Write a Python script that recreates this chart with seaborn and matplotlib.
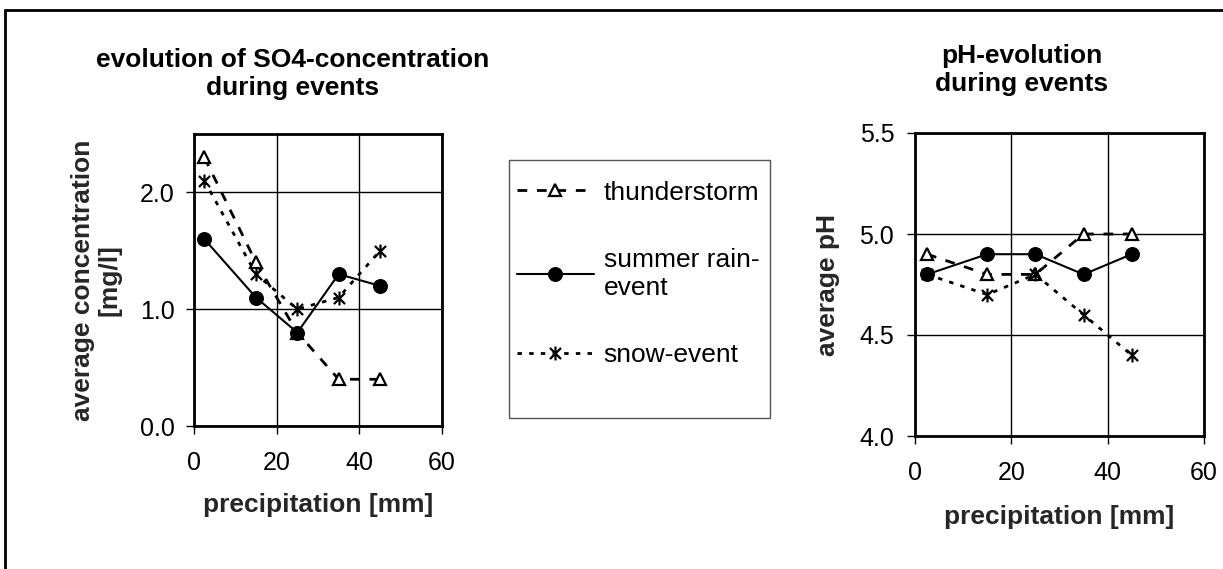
import numpy as np
import matplotlib
matplotlib.use("Agg")
import matplotlib.pyplot as plt
import seaborn as sns
import matplotlib.ticker as ticker
from matplotlib.path import Path
from matplotlib.patches import Rectangle
from matplotlib.lines import Line2D

sns.set_theme(style="white")
plt.rcParams.update({
    "font.family": ["Liberation Sans", "DejaVu Sans"],
    "font.size": 19,
    "axes.edgecolor": "black",
    "xtick.color": "black",
    "ytick.color": "black",
    "text.color": "black",
})

# data
precip = [2.5, 15, 25, 35, 45]
so4_thunder = [2.3, 1.4, 0.8, 0.4, 0.4]
so4_summer = [1.6, 1.1, 0.8, 1.3, 1.2]
so4_snow = [2.1, 1.3, 1.0, 1.1, 1.5]
ph_thunder = [4.9, 4.8, 4.8, 5.0, 5.0]
ph_summer = [4.8, 4.9, 4.9, 4.8, 4.9]
ph_snow = [4.8, 4.7, 4.8, 4.6, 4.4]
series_names = ["thunderstorm", "summer rain-\nevent", "snow-event"]
x_ticks = [0, 20, 40, 60]

LABEL_FS = 19
TICK_FS = 18

# asterisk marker (X plus vertical bar)
star = Path([(0, -1), (0, 1), (-0.8, -0.8), (0.8, 0.8), (-0.8, 0.8), (0.8, -0.8)],
            [Path.MOVETO, Path.LINETO, Path.MOVETO, Path.LINETO, Path.MOVETO, Path.LINETO])

styles = [
    dict(marker="^", markersize=9, markerfacecolor="white", markeredgecolor="black",
         markeredgewidth=1.6, linestyle=(0, (3.5, 3.5)), linewidth=2.0),
    dict(marker="o", markersize=10, markerfacecolor="black", markeredgecolor="black",
         linestyle="-", linewidth=1.5),
    dict(marker=star, markersize=10, markerfacecolor="none", markeredgecolor="black",
         markeredgewidth=1.6, linestyle=(0, (1.6, 2.6)), linewidth=2.0),
]

fig = plt.figure(figsize=(12.23, 5.69), dpi=100)
W, H = 1223, 569


def px_axes(x0, y0, x1, y1):
    return fig.add_axes([x0 / W, 1 - y1 / H, (x1 - x0) / W, (y1 - y0) / H])


ax1 = px_axes(194, 134, 442, 426)
ax2 = px_axes(915, 133, 1204, 436)

for ax, data in [(ax1, [so4_thunder, so4_summer, so4_snow]),
                 (ax2, [ph_thunder, ph_summer, ph_snow])]:
    for vals, name, st in zip(data, series_names, styles):
        sns.lineplot(x=precip, y=vals, ax=ax, color="black", label=name,
                     legend=False, **st)
    if ax.get_legend() is not None:
        ax.get_legend().remove()
    ax.set_xlim(0, 60)
    ax.set_xticks(x_ticks)
    ax.grid(True, color="black", linewidth=1)
    for s in ax.spines.values():
        s.set_linewidth(2)
        s.set_color("black")
    ax.tick_params(direction="out", length=6, width=1, labelsize=TICK_FS)
    ax.tick_params(axis="x", pad=12, bottom=True)
    ax.tick_params(axis="y", left=True)
    ax.yaxis.set_major_formatter(ticker.FormatStrFormatter("%.1f"))

ax1.set_ylim(0, 2.5)
ax1.set_yticks([0, 1, 2])
ax1.tick_params(axis="y", pad=8)
ax2.set_ylim(4.0, 5.5)
ax2.set_yticks([4.0, 4.5, 5.0, 5.5])
ax2.tick_params(axis="y", pad=9)

ax1.set_xlabel("precipitation [mm]", fontweight="bold", fontsize=LABEL_FS)
ax1.xaxis.set_label_coords(0.5, -0.23)
ax1.set_ylabel("average concentration\n[mg/l]", fontweight="bold", fontsize=LABEL_FS,
               linespacing=1.1)
ax1.yaxis.set_label_coords(-0.294, 0.5)
ax2.set_xlabel("precipitation [mm]", fontweight="bold", fontsize=LABEL_FS)
ax2.xaxis.set_label_coords(0.5, -0.228)
ax2.set_ylabel("average pH", fontweight="bold", fontsize=LABEL_FS)
ax2.yaxis.set_label_coords(-0.26, 0.5)

fig.text(293 / W, 1 - 74 / H, "evolution of SO4-concentration\nduring events",
         ha="center", va="center", fontweight="bold", fontsize=LABEL_FS, linespacing=1.2)
fig.text(1022 / W, 1 - 70 / H, "pH-evolution\nduring events",
         ha="center", va="center", fontweight="bold", fontsize=LABEL_FS, linespacing=1.2)

# legend box and entries
fig.patches.append(Rectangle((509 / W, 1 - 418 / H), (770 - 509) / W, (418 - 160) / H,
                             transform=fig.transFigure, fill=False,
                             edgecolor="#555555", linewidth=1))
handles = ax1.get_lines()[:3]
fig.legend(handles, series_names, loc="center left",
           bbox_to_anchor=(517 / W, 1 - 274 / H), frameon=False, fontsize=LABEL_FS,
           handlelength=2.9, handletextpad=0.38, labelspacing=1.65,
           borderpad=0, borderaxespad=0)

# outer frame (left and top edges)
fig.add_artist(Line2D([5 / W, 5 / W], [0, 1 - 10 / H], transform=fig.transFigure,
                      color="black", linewidth=2))
fig.add_artist(Line2D([5 / W, 1], [1 - 10 / H, 1 - 10 / H], transform=fig.transFigure,
                      color="black", linewidth=2))

fig.savefig("out.png", dpi=100)
